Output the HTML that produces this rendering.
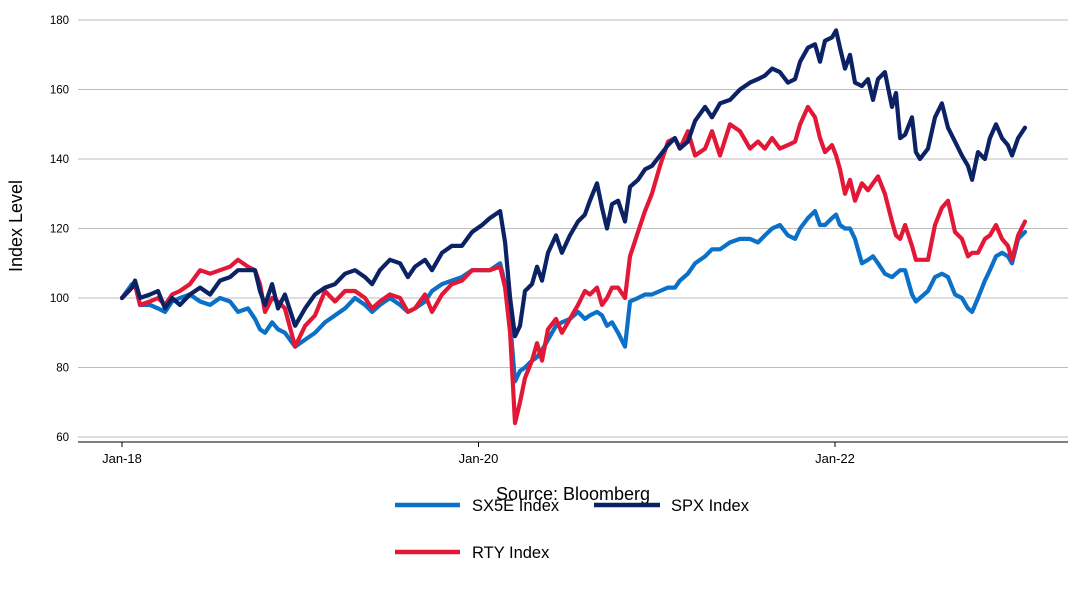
<!DOCTYPE html>
<html><head><meta charset="utf-8"><style>
html,body{margin:0;padding:0;background:#fff;}
svg{display:block;font-family:"Liberation Sans",sans-serif;}
</style></head><body>
<svg id="chart" width="1077" height="601" viewBox="0 0 1077 601">
<g id="grid"></g>
<g id="yticks"></g>
<g id="xticks"></g>
<g id="series"></g>
<text x="22" y="226" transform="rotate(-90 22 226)" text-anchor="middle" font-size="18" fill="#000">Index Level</text>
<text x="573" y="500" text-anchor="middle" font-size="18" fill="#000">Source: Bloomberg</text>
<g>
 <g><line x1="395" y1="505" x2="460" y2="505" stroke="#0a70c8" stroke-width="4.5"/><text x="472" y="511" font-size="16.5">SX5E Index</text></g>
 <g><line x1="594" y1="505" x2="660" y2="505" stroke="#0b2265" stroke-width="4.5"/><text x="671" y="511" font-size="16.5">SPX Index</text></g>
 <g><line x1="395" y1="552" x2="460" y2="552" stroke="#e31837" stroke-width="4.5"/><text x="472" y="558" font-size="16.5">RTY Index</text></g>
</g>
</svg>
<script>
// years since Jan-2018
const dates=[0,.056,.073,.101,.157,.202,.241,.281,.325,.381,.438,.494,.550,.606,.651,.707,.746,.774,.802,.842,.875,.914,.971,1.027,1.083,1.139,1.195,1.251,1.307,1.363,1.403,1.447,1.503,1.560,1.604,1.644,1.700,1.739,1.795,1.851,1.907,1.964,2.020,2.064,2.121,2.149,2.177,2.205,2.233,2.261,2.300,2.328,2.356,2.390,2.435,2.468,2.513,2.558,2.597,2.625,2.665,2.693,2.721,2.749,2.783,2.822,2.850,2.895,2.934,2.973,3.018,3.063,3.102,3.130,3.175,3.215,3.271,3.310,3.355,3.411,3.467,3.523,3.568,3.607,3.647,3.691,3.736,3.776,3.804,3.848,3.888,3.916,3.944,3.983,4.006,4.028,4.056,4.084,4.112,4.151,4.185,4.213,4.241,4.280,4.320,4.342,4.365,4.393,4.432,4.454,4.477,4.522,4.561,4.600,4.634,4.673,4.712,4.746,4.769,4.802,4.841,4.869,4.903,4.937,4.970,4.993,5.027,5.066];
const spx=[100,103,105,100,101,102,97,100,98,101,103,101,105,106,108,108,108,102,98,104,97,101,92,97,101,103,104,107,108,106,104,108,111,110,106,109,111,108,113,115,115,119,121,123,125,116,100,89,92,102,104,109,105,113,118,113,118,122,124,128,133,126,120,127,128,122,132,134,137,138,141,144,146,143,145,151,155,152,156,157,160,162,163,164,166,165,162,163,168,172,173,168,174,175,177,172,166,170,162,161,163,157,163,165,155,159,146,147,152,142,140,143,152,156,149,145,141,138,134,142,140,146,150,146,144,141,146,149];
const rty=[100,103,104,98,99,100,98,101,102,104,108,107,108,109,111,109,108,104,96,100,99,97,86,92,95,102,99,102,102,100,97,99,101,100,96,97,101,96,101,104,105,108,108,108,109,103,90,64,70,77,82,87,82,91,94,90,94,98,102,101,103,98,100,103,103,100,112,119,125,130,138,145,146,143,148,141,143,148,141,150,148,143,145,143,146,143,144,145,150,155,152,146,142,144,141,137,130,134,128,133,131,133,135,130,122,118,117,121,115,111,111,111,121,126,128,119,117,112,113,113,117,118,121,117,115,111,118,122];
const sx5e=[100,104,104,98,98,97,96,99,100,101,99,98,100,99,96,97,94,91,90,93,91,90,86,88,90,93,95,97,100,98,96,98,100,98,96,97,99,102,104,105,106,108,108,108,110,104,93,76,79,80,82,83,85,88,92,93,94,96,94,95,96,95,92,93,90,86,99,100,101,101,102,103,103,105,107,110,112,114,114,116,117,117,116,118,120,121,118,117,120,123,125,121,121,123,124,121,120,120,117,110,111,112,110,107,106,107,108,108,101,99,100,102,106,107,106,101,100,97,96,100,105,108,112,113,112,110,117,119];
const yTicks=[60,80,100,120,140,160,180];
const xTickVals=[0,2,4];
const xTickLabels=["Jan-18","Jan-20","Jan-22"];
const NS="http://www.w3.org/2000/svg";
const X=t=>122+t*178.25;
const Y=v=>437-(v-60)*(417/120);
const mk=(tag,attrs,parent)=>{const e=document.createElementNS(NS,tag);for(const k in attrs)e.setAttribute(k,attrs[k]);parent.appendChild(e);return e;};
const grid=document.getElementById('grid'),yt=document.getElementById('yticks'),xt=document.getElementById('xticks'),ser=document.getElementById('series');
yTicks.forEach(v=>{
  const l=mk('line',{x1:78,x2:1068,y1:Y(v),y2:Y(v),stroke:'#bdbdbd','stroke-width':1},grid);
  
  
  const t=mk('text',{x:69,y:Y(v)+4,'text-anchor':'end','font-size':11.5,fill:'#000'},yt);
  t.textContent=v;
  
  
});
const ax=mk('line',{x1:78,x2:1068,y1:442,y2:442,stroke:'#000','stroke-width':1},xt);


xTickVals.forEach((v,i)=>{
  const tk=mk('line',{x1:X(v),x2:X(v),y1:442,y2:447,stroke:'#000','stroke-width':1},xt);
  
  
  const t=mk('text',{x:X(v),y:463,'text-anchor':'middle','font-size':13,fill:'#000'},xt);
  t.textContent=xTickLabels[i];
  
  
});
function draw(vals,color,name){
  const n=Math.min(vals.length,dates.length);
  let d='';
  for(let i=0;i<n;i++)d+=(i?'L':'M')+X(dates[i]).toFixed(1)+','+Y(vals[i]).toFixed(1);
  const p=mk('path',{d:d,fill:'none',stroke:color,'stroke-width':4.2,'stroke-linejoin':'round','stroke-linecap':'round'},ser);
  
  
}
draw(sx5e,'#0a70c8','sx5e-line');
draw(rty,'#e31837','rty-line');
draw(spx,'#0b2265','spx-line');
</script>
</body></html>
